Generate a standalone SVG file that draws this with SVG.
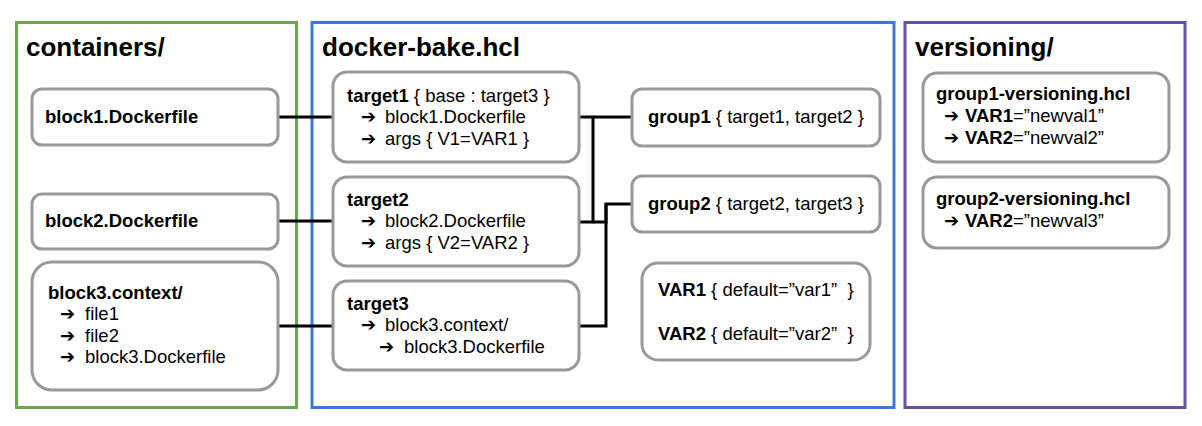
<svg xmlns="http://www.w3.org/2000/svg" width="1202" height="426" viewBox="0 0 1202 426">
<style>
text{font-family:"Liberation Sans",Arial,"DejaVu Sans",sans-serif;font-size:18.5px;fill:#000}
.title{font-size:26px;font-weight:bold}
.b{font-weight:bold}
.ar{font-family:"DejaVu Sans",sans-serif;font-size:18px;font-weight:bold}
.frame{fill:none;stroke-width:3}
.node{fill:#fff;stroke:#999;stroke-width:3}
.conn{fill:none;stroke:#000;stroke-width:3}
</style>
<rect width="1202" height="426" fill="#fff"/>
<g id="containers">
<rect class="frame" x="16.5" y="22.5" width="280" height="385" stroke="#6aa84f"/>
<text class="title" x="26" y="56">containers/</text>
</g>
<g id="docker-bake">
<rect class="frame" x="312" y="22.5" width="582" height="385" stroke="#3c78d8"/>
<text class="title" x="322" y="56">docker-bake.hcl</text>
</g>
<g id="versioning">
<rect class="frame" x="905" y="22.5" width="280" height="385" stroke="#674ea7"/>
<text class="title" x="915" y="56">versioning/</text>
</g>
<g id="connectors">
<path class="conn" d="M278,117 H333"/>
<path class="conn" d="M278,221 H333"/>
<path class="conn" d="M278,326 H333"/>
<path class="conn" d="M579,117 H632"/>
<path class="conn" d="M579,222 H593 V117"/>
<path class="conn" d="M593,222 H606 V204 H632"/>
<path class="conn" d="M579,326 H606 V204"/>
</g>
<g id="block1">
<rect class="node" x="32" y="89" width="246" height="56" rx="10"/>
<text class="b" x="45" y="123">block1.Dockerfile</text>
</g>
<g id="block2">
<rect class="node" x="32" y="194" width="246" height="55" rx="10"/>
<text class="b" x="45" y="227">block2.Dockerfile</text>
</g>
<g id="block3">
<rect class="node" x="32" y="262" width="246" height="128" rx="20"/>
<text class="b" x="48" y="299">block3.context/</text>
<text class="ar" x="60" y="320">➔</text><text x="85" y="320">file1</text>
<text class="ar" x="60" y="342">➔</text><text x="85" y="342">file2</text>
<text class="ar" x="60" y="363">➔</text><text x="85" y="363">block3.Dockerfile</text>
</g>
<g id="target1">
<rect class="node" x="333" y="72" width="246" height="90" rx="14"/>
<text x="347" y="102"><tspan class="b">target1</tspan> { base : target3 }</text>
<text class="ar" x="361" y="123">➔</text><text x="385" y="123">block1.Dockerfile</text>
<text class="ar" x="361" y="145">➔</text><text x="385" y="145">args { V1=VAR1 }</text>
</g>
<g id="target2">
<rect class="node" x="333" y="177" width="246" height="89" rx="14"/>
<text class="b" x="347" y="206">target2</text>
<text class="ar" x="361" y="227">➔</text><text x="385" y="227">block2.Dockerfile</text>
<text class="ar" x="361" y="249">➔</text><text x="385" y="249">args { V2=VAR2 }</text>
</g>
<g id="target3">
<rect class="node" x="333" y="281" width="246" height="89" rx="14"/>
<text class="b" x="347" y="310">target3</text>
<text class="ar" x="361" y="331">➔</text><text x="385" y="331">block3.context/</text>
<text class="ar" x="379" y="353">➔</text><text x="404" y="353">block3.Dockerfile</text>
</g>
<g id="group1">
<rect class="node" x="632" y="89" width="248" height="57" rx="10"/>
<text x="648" y="123"><tspan class="b">group1</tspan> { target1, target2 }</text>
</g>
<g id="group2">
<rect class="node" x="632" y="176" width="248" height="56" rx="10"/>
<text x="648" y="210"><tspan class="b">group2</tspan> { target2, target3 }</text>
</g>
<g id="vars">
<rect class="node" x="642" y="263" width="228" height="97" rx="16"/>
<text x="658" y="296" xml:space="preserve"><tspan class="b">VAR1</tspan> { default=”var1”  }</text>
<text x="658" y="340" xml:space="preserve"><tspan class="b">VAR2</tspan> { default=”var2”  }</text>
</g>
<g id="group1-versioning">
<rect class="node" x="923" y="73" width="246" height="89" rx="14"/>
<text class="b" x="936" y="100">group1-versioning.hcl</text>
<text class="ar" x="944" y="122">➔</text><text x="965" y="122"><tspan class="b">VAR1</tspan>=”newval1”</text>
<text class="ar" x="944" y="144">➔</text><text x="965" y="144"><tspan class="b">VAR2</tspan>=”newval2”</text>
</g>
<g id="group2-versioning">
<rect class="node" x="923" y="177" width="246" height="71" rx="14"/>
<text class="b" x="936" y="205">group2-versioning.hcl</text>
<text class="ar" x="944" y="227">➔</text><text x="965" y="227"><tspan class="b">VAR2</tspan>=”newval3”</text>
</g>
</svg>
